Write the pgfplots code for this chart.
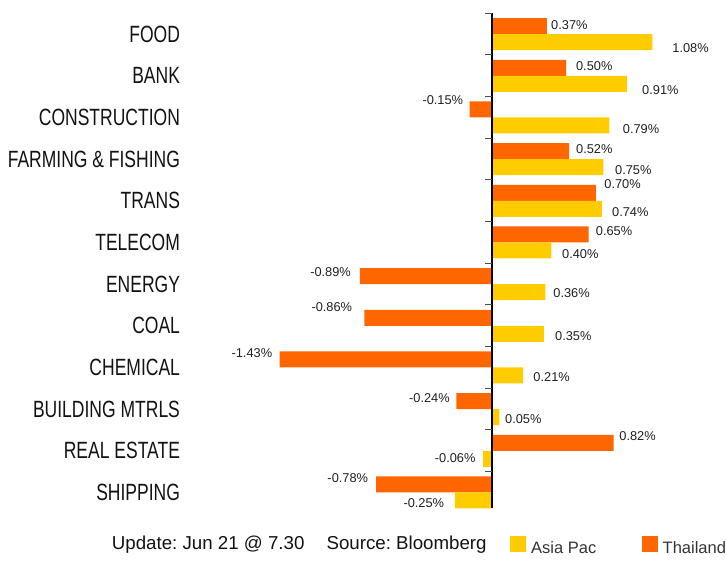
\documentclass[border=0pt]{standalone}
\usepackage{fontspec}
\setmainfont{Liberation Sans}
\newfontfamily\catfamily[FakeStretch=0.745]{Liberation Sans}
\usepackage{pgfplots}
\usepackage{pgfplotstable}
\pgfplotsset{compat=1.18}
\definecolor{th}{HTML}{FF6600}
\definecolor{ap}{HTML}{FFCC00}
\newcommand\catfont{\catfamily\fontsize{23.5}{26}\selectfont}
\newcommand\labfont{\fontsize{12.8}{14}\selectfont}
\frenchspacing

\pgfplotstableread{
y x dx up
-0.192 0.37 4.1 1.4
0.808 0.50 9.7 2.1
1.808 -0.15 -6.4 8.9
2.808 0.52 6.8 2.1
3.808 0.70 8.3 9.0
4.808 0.65 7.2 3.5
5.808 -0.89 -8.8 4.4
6.808 -0.86 -12.0 10.6
7.808 -1.43 -7.3 6.2
8.808 -0.24 -6.4 2.8
9.808 0.82 5.5 7.1
10.808 -0.78 -7.9 6.2
}\thailand

\pgfplotstableread{
y x dx up
0.192 1.08 19.9 -5.6
1.192 0.91 14.9 -6.2
2.192 0.79 13.4 -3.9
3.192 0.75 11.6 -2.9
4.192 0.74 10.1 -3.5
5.192 0.40 10.6 -3.8
6.192 0.36 7.8 -0.6
7.192 0.35 11.0 -2.4
8.192 0.21 10.1 -1.8
9.192 0.05 5.6 -2.1
10.192 -0.06 -7.4 1.1
11.192 -0.25 -10.6 -2.2
}\asiapac

\begin{document}
\frenchspacing
\begin{tikzpicture}
\path[use as bounding box] (-180.15pt,-47.7pt) rectangle (545.85pt,513.3pt);
\begin{axis}[
  at={(0pt,0pt)}, anchor=south west,
  scale only axis, width=545.85pt, height=500pt,
  xmin=-2.1, xmax=1.576, ymin=-0.5, ymax=11.5, y dir=reverse,
  axis line style={draw=none},
  xtick=\empty,
  ytick={0,1,2,3,4,5,6,7,8,9,10,11},
  yticklabels={{FOOD},{BANK},{CONSTRUCTION},{FARMING \& FISHING},{TRANS},{TELECOM},{ENERGY},{COAL},{CHEMICAL},{BUILDING MTRLS},{REAL ESTATE},{SHIPPING}},
  major tick length=0pt,
  yticklabel style={font=\catfont, inner sep=0pt, anchor=east, text=black!93},
  xbar, bar width=0.384, bar shift=0pt,
  clip=false,
  /pgf/number format/assume math mode=true,
  nodes near coords={\pgfmathprintnumber[fixed,fixed zerofill,precision=2,assume math mode=true]{\pgfplotspointmeta}\%},
  nodes near coords align={horizontal},
  visualization depends on={\thisrow{dx} \as \dx},
  visualization depends on={\thisrow{up} \as \up},
  every node near coord/.append style={font=\labfont, inner sep=0pt, text=black!88, xshift=\dx pt, yshift=\up pt},
]
\addplot[fill=th, draw=none, point meta=x] table[x=x, y=y] {\thailand};
\addplot[fill=ap, draw=none, point meta=x] table[x=x, y=y] {\asiapac};
\draw[black, line width=1.2pt] (axis cs:0,-0.5) -- (axis cs:0,11.37);
\pgfplotsinvokeforeach{-0.5,0.5,1.5,2.5,3.5,4.5,5.5,6.5,7.5,8.5,9.5,10.5}{
  \draw[black!70, line width=1pt] (axis cs:0,#1) -- ++(-7pt,0pt);
}
\end{axis}
\node[anchor=base west, inner sep=0pt, font=\fontsize{18.7}{21}\selectfont, text=black!93] at (-68.45pt,-36pt) {Update: Jun 21 @ 7.30};
\node[anchor=base west, inner sep=0pt, font=\fontsize{18.7}{21}\selectfont, text=black!93] at (146.2pt,-36pt) {Source: Bloomberg};
\fill[ap] (329.85pt,-39pt) rectangle (345.85pt,-23pt);
\node[anchor=base west, inner sep=0pt, font=\fontsize{16.5}{19}\selectfont, text=black!80] at (350.85pt,-40.2pt) {Asia Pac};
\fill[th] (461.55pt,-39pt) rectangle (477.55pt,-23pt);
\node[anchor=base west, inner sep=0pt, font=\fontsize{16.5}{19}\selectfont, text=black!80] at (482.35pt,-40.2pt) {Thailand};
\end{tikzpicture}
\end{document}
